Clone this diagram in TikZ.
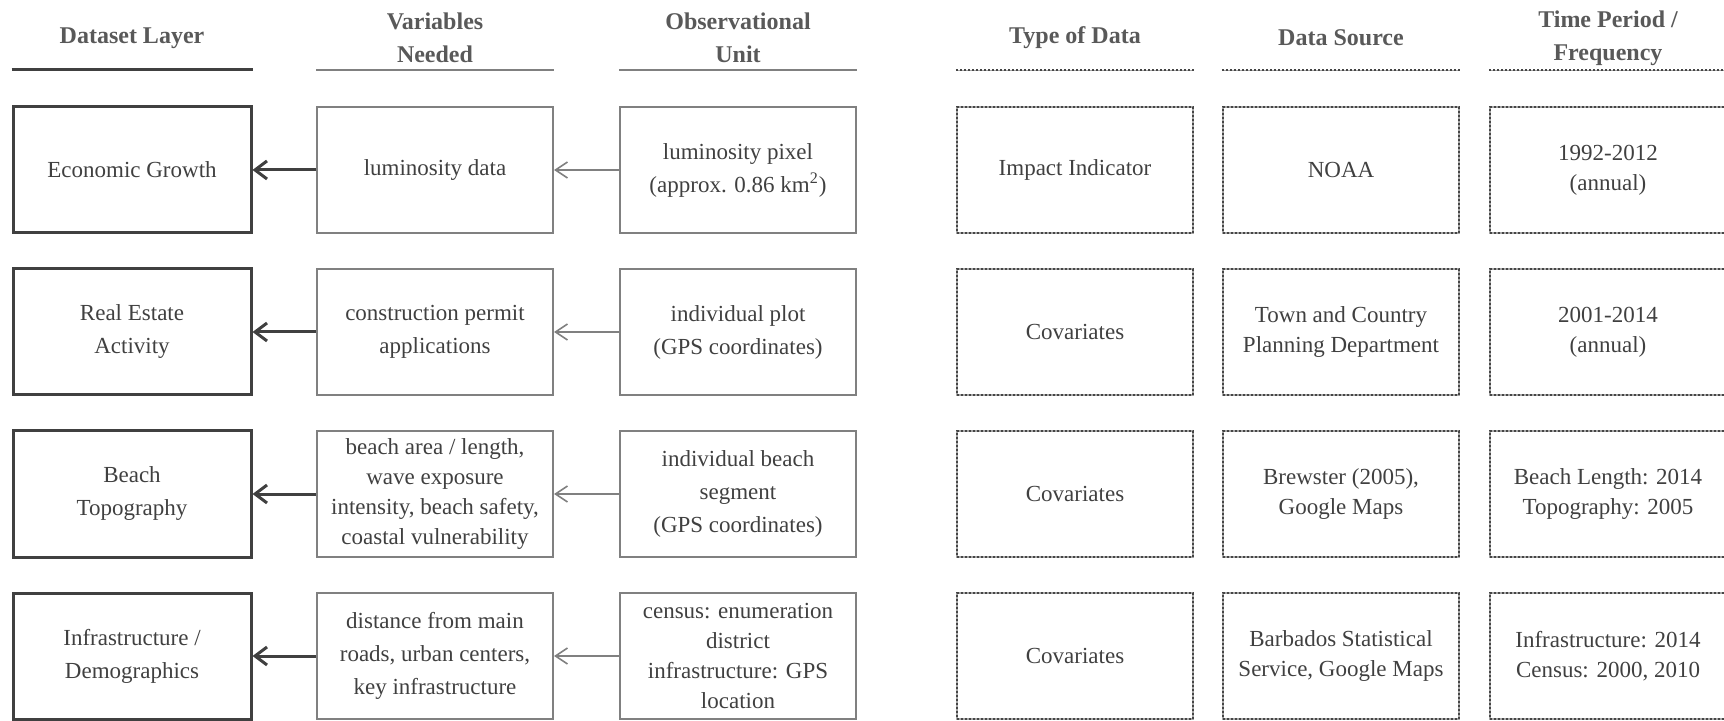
\documentclass[tikz,border=0pt]{standalone}
\usepackage{fontspec}
\setmainfont{Liberation Serif}
\usepackage{xcolor}
\usetikzlibrary{arrows.meta}
\definecolor{ink}{HTML}{404040}
\definecolor{frame}{HTML}{808080}
\definecolor{head}{HTML}{595959}
\definecolor{dots}{HTML}{454545}
\tikzset{
  cell/.style={draw=frame, line width=1pt, align=center, minimum width=118pt, minimum height=63pt, inner sep=2pt, text=ink, font=\fontsize{11.5}{16.5}\selectfont},
  layer/.style={cell, draw=ink, line width=1.5pt, minimum width=119pt},
  info/.style={cell, draw=dots, densely dotted, preaction={draw=black!35, solid}, font=\fontsize{11.5}{15}\selectfont},
  colhead/.style={align=center, text=head, font=\fontsize{12}{16.5}\selectfont\bfseries},
  headthick/.style={draw=ink, line width=1.5pt},
  headline/.style={draw=frame, line width=1pt},
  headdots/.style={draw=dots, line width=1pt, densely dotted, preaction={draw=black!35, solid}},
  feed/.style={-{Straight Barb[length=6pt,width=9pt]}, draw=ink, line width=1.5pt},
  link/.style={-{Straight Barb[length=6pt,width=8pt]}, draw=frame, line width=0.8pt},
}
\newcommand{\datarow}[8]{%
  \node[layer] (l#1) at (132,#2) {#3};
  \node[cell] (v#1) at (435,#2) {#4};
  \node[cell] (u#1) at (738,#2) {#5};
  \node[info] (t#1) at (1075,#2) {#6};
  \node[info] (s#1) at (1341,#2) {#7};
  \node[info] (p#1) at (1608,#2) {#8};
  \draw[feed] (v#1.west) -- (l#1.east);
  \draw[link] (u#1.west) -- (v#1.east);}

\begin{document}
\begin{tikzpicture}[x=0.5pt,y=-0.5pt]
  \useasboundingbox (0,0) rectangle (1724,721);
  \clip (0,0) rectangle (1724,721);
  \node[colhead] (hl) at (132,38) {Dataset Layer};
  \node[colhead] (hv) at (435,38) {Variables\\Needed};
  \node[colhead] (hu) at (738,38) {Observational\\Unit};
  \node[colhead] (ht) at (1075,38) {Type of Data};
  \node[colhead] (hs) at (1341,38) {Data Source};
  \node[colhead] (hp) at (1608,38) {Time Period /\\Frequency};
  \datarow{1}{170}{Economic Growth}{luminosity data}{luminosity pixel\\(approx. 0.86 km\textsuperscript{2})}{Impact Indicator}{NOAA}{1992-2012\\(annual)}
  \datarow{2}{332}{Real Estate\\Activity}{construction permit\\applications}{individual plot\\(GPS coordinates)}{Covariates}{Town and Country\\Planning Department}{2001-2014\\(annual)}
  \datarow{3}{494}{Beach\\Topography}{beach area / length,\\[-1.5pt]wave exposure\\[-1.5pt]intensity, beach safety,\\[-1.5pt]coastal vulnerability}{individual beach\\segment\\(GPS coordinates)}{Covariates}{Brewster (2005),\\Google Maps}{Beach Length: 2014\\Topography: 2005}
  \datarow{4}{656}{Infrastructure /\\Demographics}{distance from main\\roads, urban centers,\\key infrastructure}{census: enumeration\\[-1.5pt]district\\[-1.5pt]infrastructure: GPS\\[-1.5pt]location}{Covariates}{Barbados Statistical\\Service, Google Maps}{Infrastructure: 2014\\Census: 2000, 2010}
  \draw[headthick] (l1.west |- 0,70) -- (l1.east |- 0,70);
  \draw[headline] (v1.west |- 0,70) -- (v1.east |- 0,70);
  \draw[headline] (u1.west |- 0,70) -- (u1.east |- 0,70);
  \draw[headdots] (t1.west |- 0,70) -- (t1.east |- 0,70);
  \draw[headdots] (s1.west |- 0,70) -- (s1.east |- 0,70);
  \draw[headdots] (p1.west |- 0,70) -- (p1.east |- 0,70);
\end{tikzpicture}
\end{document}
